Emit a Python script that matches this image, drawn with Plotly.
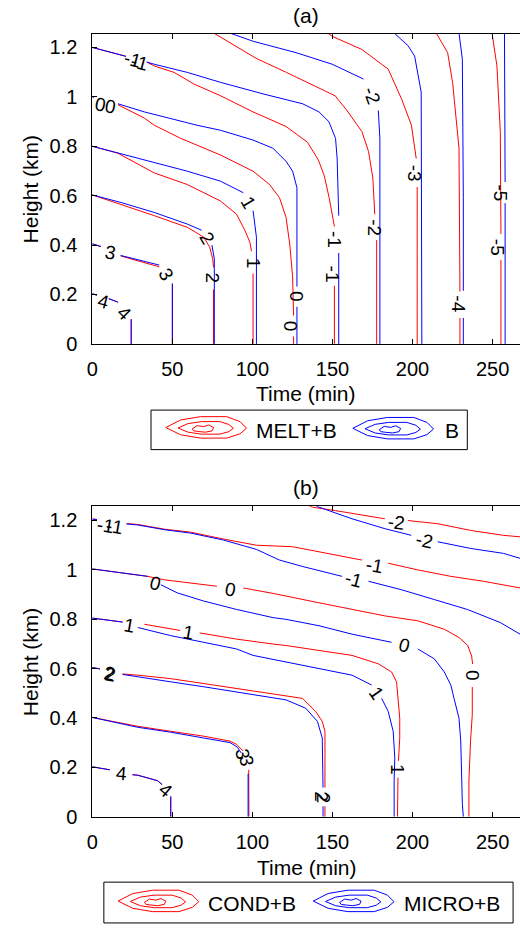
import plotly.graph_objects as go

W, H = 520, 930
FONT = "Liberation Sans, Arial, Helvetica, sans-serif"
RED, BLUE = "#ff0000", "#0000ff"
N = None

# ---------------- data: panel (a) ----------------
X_TICKS = [0, 50, 100, 150, 200, 250]
Y_TICKS = [0, 0.2, 0.4, 0.6, 0.8, 1.0, 1.2]

# MELT+B (red) contour lines, level -> (time [min], height [km])
a_melt = {
    4: ([0, 2.9, N, 10.3, 16, N, 24.3, 24.3], [0.203, 0.197, N, 0.183, 0.169, N, 0.1, 0]),
    3: ([0, 5.4, N, 17.7, 28.2, 41.8, N, 50, 50], [0.405, 0.394, N, 0.356, 0.336, 0.312, N, 0.244, 0]),
    2: ([0, 18.1, 38.7, 59.3, 69.6, 73.3, 75.2, 75.7, N, 75.7, 75.7],
        [0.603, 0.565, 0.519, 0.472, 0.432, 0.392, 0.344, 0.31, N, 0.22, 0]),
    1: ([0, 15.9, 38.7, 59.3, 79.9, 90.1, 95.3, 98.4, 99.4, N, 100.4, 100.4],
        [0.8, 0.772, 0.692, 0.645, 0.579, 0.525, 0.459, 0.412, 0.375, N, 0.285, 0]),
    0: ([0, 1, N, 16, 32.5, 38.7, 55.2, 79.9, 100.4, 110.7, 116.9, 121, 123.3, 125.1, 125.7, N, 125.7, 125.7],
        [1.0, 0.998, N, 0.968, 0.914, 0.885, 0.832, 0.765, 0.699, 0.645, 0.592, 0.512, 0.404, 0.272, 0.115, N, 0.03, 0]),
    -1: ([0, 21, N, 34, 38.7, 51.1, 63.4, 79.9, 100.4, 121, 134.4, 141.2, 144.9, 147.9, 150.4, 151.2, N, 151.2, 151.2],
         [1.2, 1.164, N, 1.141, 1.125, 1.099, 1.052, 1.005, 0.939, 0.88, 0.816, 0.744, 0.68, 0.592, 0.504, 0.475, N, 0.235, 0]),
    -2: ([76.4, 89.9, 102.3, 121.2, 137.6, 151.7, 159.1, 168.4, 172.5, 175.2, 176.4, N, 177.6, 177.6],
         [1.256, 1.204, 1.156, 1.099, 1.048, 1.004, 0.944, 0.859, 0.779, 0.672, 0.525, N, 0.42, 0]),
    -3: ([146.7, 149.8, 168.3, 184.8, 193.1, 199.3, 202.3, N, 202.9, 202.9],
         [1.26, 1.245, 1.192, 1.112, 0.992, 0.885, 0.75, N, 0.635, 0]),
    -4: ([214.7, 221.9, 225, 229, 229.6, N, 229.6, 229.6],
         [1.259, 1.179, 1.059, 0.792, 0.212, N, 0.105, 0]),
    -5: ([249.6, 252.7, 254.8, 255.2, N, 255.2, 255.2],
         [1.259, 1.125, 0.86, 0.445, N, 0.34, 0]),
}

# B (blue) contour lines
a_base = {
    4: ([0, 2.9, N, 10.3, 16, N, 24.3, 24.3], [0.203, 0.197, N, 0.183, 0.169, N, 0.1, 0]),
    3: ([0, 5.4, N, 17.7, 28.2, 41.8, N, 50, 50], [0.405, 0.394, N, 0.358, 0.34, 0.319, N, 0.244, 0]),
    2: ([0, 18.1, 38.7, 59.3, 68.3, N, 74.7, 76.2, 76.2], [0.603, 0.572, 0.532, 0.485, 0.46, N, 0.4, 0.344, 0]),
    1: ([0, 20.2, 38.7, 59.3, 79.9, 94.3, N, 100.4, 102.5, 102.5],
        [0.8, 0.765, 0.732, 0.699, 0.659, 0.612, N, 0.539, 0.432, 0]),
    0: ([0, 1, N, 16, 32.5, 49, 65.4, 79.9, 100.4, 112.8, 121, 125.1, 127.8, 127.8, N, 127.8, 127.8],
        [1.0, 0.998, N, 0.972, 0.939, 0.912, 0.885, 0.865, 0.825, 0.792, 0.739, 0.699, 0.632, 0.232, N, 0.15, 0]),
    -1: ([0, 21, N, 34, 38.7, 59.3, 79.9, 106.6, 131.3, 141.6, 147.8, 151.9, 152.9, 153.9, N, 153.9, 153.9],
         [1.2, 1.164, N, 1.141, 1.132, 1.099, 1.059, 1.012, 0.972, 0.939, 0.899, 0.832, 0.752, 0.519, N, 0.368, 0]),
    -2: ([86.9, 100.4, 127.2, 149.8, 169.4, N, 178.6, 179.6, 179.6],
         [1.256, 1.225, 1.179, 1.132, 1.072, N, 0.945, 0.832, 0]),
    -3: ([188.9, 197.2, 201.3, 205.4, 205.8], [1.256, 1.207, 1.165, 1.019, 0]),
    -4: ([229, 231.1, 231.7, 231.7, N, 231.7, 231.7], [1.259, 1.152, 0.592, 0.215, N, 0.105, 0]),
    -5: ([257.4, 257.8, N, 257.8, 257.8], [1.259, 0.655, N, 0.57, 0]),
}

# contour labels (a): text, time, height, rotation
a_lab_text = ["-1", "-1", "0", "0", "4", "4", "3", "3", "2", "2", "1", "1", "0", "0",
              "-1", "-1", "-2", "-2", "-3", "-4", "-5", "-5"]
a_lab_t = [25.1, 29.4, 5.0, 11.6, 6.8, 20.2, 11.5, 45.9, 71.6, 75.3, 97.3, 100.4, 127.2, 124.3,
           151.7, 149.8, 174.5, 176.6, 201.0, 229.0, 254.8, 253.5]
a_lab_z = [1.150, 1.140, 0.968, 0.962, 0.172, 0.125, 0.368, 0.279, 0.425, 0.265, 0.572, 0.328, 0.19, 0.072,
           0.424, 0.284, 1.004, 0.472, 0.692, 0.160, 0.612, 0.392]
a_lab_ang = [15, 15, 10, 10, 15, 45, 10, 60, 60, 90, 60, 90, 90, 90,
             90, 90, 70, 90, 90, 90, 90, 90]

# ---------------- data: panel (b) ----------------
# COND+B (red)
b_cond = {
    4: ([0, 10.9, N, 25.1, 28.4, 40.7, 43.6, N, 49, 49], [0.202, 0.19, N, 0.17, 0.168, 0.146, 0.13, N, 0.082, 0]),
    3: ([0, 28.4, 49, 69.6, 86, 90.1, 94.2, N, 97.7, 97.8, 97.8],
        [0.402, 0.366, 0.346, 0.326, 0.306, 0.293, 0.266, N, 0.19, 0.146, 0]),
    2: ([0, 4.8, N, 18.9, 28.4, 49, 69.6, 90.1, 100.4, 112.8, 131.3, 139.5, 143.6, 145.3, 145.3, N, 145.3, 145.3],
        [0.604, 0.598, N, 0.578, 0.573, 0.559, 0.539, 0.519, 0.512, 0.5, 0.479, 0.426, 0.386, 0.346, 0.118, N, 0.042, 0]),
    1: ([0, 18.9, N, 32.5, 49, 54.8, N, 67.1, 90.1, 112.8, 121, 141.6, 162.2, 178.6, 186.9, 190, 191, 192, 192, 191.2,
         N, 190.9, 190.6, 190.6],
        [0.804, 0.788, N, 0.779, 0.759, 0.754, N, 0.744, 0.719, 0.699, 0.693, 0.673, 0.653, 0.619, 0.586, 0.546, 0.479,
         0.399, 0.319, 0.226, N, 0.158, 0.079, 0]),
    0: ([0, 34.6, 44.9, 61.4, 77.8, N, 94.3, 112.8, 141.6, 162.2, 182.7, 203.3, 219.8, 228.9, 234.4, 236.9, 237.5,
         N, 237.3, 237.3, 236.2, 235.2, 235.2],
        [1.003, 0.973, 0.959, 0.946, 0.933, N, 0.926, 0.904, 0.866, 0.839, 0.813, 0.793, 0.759, 0.726, 0.694, 0.65,
         0.618, N, 0.525, 0.413, 0.306, 0.146, 0]),
    -1: ([0, 2.9, N, 21.4, 28.4, 44.9, 61.4, 81.9, 102.5, 125.1, 168.3, N, 184.8, 203.3, 223.9, 244.4, 267.1],
         [1.205, 1.203, N, 1.187, 1.183, 1.164, 1.152, 1.124, 1.099, 1.093, 1.039, N, 1.026, 0.999, 0.973, 0.953, 0.926]),
    -2: ([134.4, 137.5, 151.9, 182.7, N, 197.1, 215.7, 236.2, 256.8, 267.1],
         [1.262, 1.253, 1.239, 1.206, N, 1.199, 1.186, 1.159, 1.139, 1.133]),
}

# MICRO+B (blue)
b_micro = {
    4: ([0, 10.9, N, 25.1, 28.4, 40.7, 43.6, N, 49, 49], [0.202, 0.19, N, 0.17, 0.168, 0.146, 0.13, N, 0.082, 0]),
    3: ([0, 28.4, 49, 69.6, 86, 90.6, 93, N, 97.3, 97.3], [0.402, 0.362, 0.342, 0.32, 0.3, 0.282, 0.258, N, 0.174, 0]),
    2: ([0, 4.8, N, 18.9, 28.4, 49, 69.6, 90.1, 100.4, 121, 133.3, 140.6, 143.6, 144.1, N, 144.1, 144.1],
        [0.604, 0.598, N, 0.576, 0.566, 0.546, 0.526, 0.504, 0.493, 0.473, 0.439, 0.386, 0.319, 0.118, N, 0.042, 0]),
    1: ([0, 18.9, N, 28.4, 49, 69.6, 90.1, 100.4, 121, 141.6, 162.2, 174.5, N, 180.7, 184.8, 187.9, 188.9, 188.5, 188.5],
        [0.804, 0.788, N, 0.766, 0.733, 0.706, 0.679, 0.653, 0.626, 0.599, 0.573, 0.533, N, 0.479, 0.426, 0.346,
         0.239, 0.146, 0]),
    0: ([0, 34.6, N, 42.8, 53.1, 69.6, 90.1, 112.8, 121, 141.6, 162.2, 186.9, N, 203.3, 213.6, 219.8, 223.9, 225.9,
         229, 230.1, 230.5, 231.1, 231.7],
        [1.003, 0.973, N, 0.939, 0.906, 0.873, 0.839, 0.806, 0.799, 0.773, 0.739, 0.706, N, 0.679, 0.639, 0.586,
         0.533, 0.479, 0.399, 0.306, 0.146, 0.053, 0]),
    -1: ([0, 2.9, N, 21.4, 28.4, 44.9, 61.4, 81.9, 102.5, 116.9, 131.3, 156, N, 172.5, 193, 213.6, 234.2, 254.8, 267.1],
         [1.205, 1.203, N, 1.185, 1.181, 1.162, 1.148, 1.12, 1.082, 1.039, 1.013, 0.973, N, 0.953, 0.919, 0.879,
          0.839, 0.786, 0.739]),
    -2: ([139.3, 141.6, 162.2, 182.7, 199.2, N, 215.7, 236.2, 256.8, 267.1],
         [1.26, 1.253, 1.206, 1.166, 1.139, N, 1.113, 1.086, 1.066, 1.046]),
}

b_lab_text = ["-1", "-1", "0", "0", "1", "1", "2", "2", "3", "3", "4", "4", "2", "2",
              "1", "1", "0", "0", "-1", "-1", "-2", "-2"]
b_lab_t = [8.3, 14.0, 39.7, 86.0, 23.3, 60.3, 10.5, 11.5, 93.6, 96.1, 18.1, 45.9, 143.0, 144.5,
           177.6, 191.0, 195.0, 237.9, 176.4, 163.2, 190.0, 207.4]
b_lab_z = [1.179, 1.176, 0.946, 0.919, 0.773, 0.746, 0.578, 0.574, 0.254, 0.226, 0.175, 0.106, 0.082, 0.074,
           0.499, 0.193, 0.695, 0.573, 1.018, 0.959, 1.193, 1.119]
b_lab_ang = [10, 10, 15, 10, 10, 10, 10, 10, 80, 80, 5, 40, 90, 90,
             55, 90, 15, 90, 10, 15, 8, 12]

# ---------------- figure ----------------
fig = go.Figure()

# panel geometry (pixels)
X_LEFT = 87.3
A_TOP, A_BOT = 34.0, 348.0
B_TOP, B_BOT = 512.3, 826.5
PX_PER_MIN = 1.62
PX_PER_KM = 250.0
X_MAX = (W - X_LEFT) / PX_PER_MIN


def add_series(series, color, xa, ya):
    for lvl, (t, z) in series.items():
        fig.add_trace(go.Scatter(x=t, y=z, mode="lines", line=dict(color=color, width=1),
                                 xaxis=xa, yaxis=ya, showlegend=False, hoverinfo="skip",
                                 name=str(lvl)))


add_series(a_melt, RED, "x", "y")
add_series(a_base, BLUE, "x", "y")
add_series(b_cond, RED, "x2", "y2")
add_series(b_micro, BLUE, "x2", "y2")

ann = []
for txt, t, z, ang in zip(a_lab_text, a_lab_t, a_lab_z, a_lab_ang):
    ann.append(dict(x=t, y=z, xref="x", yref="y", text=txt, showarrow=False, textangle=ang,
                    font=dict(family=FONT, size=19, color="black")))
for txt, t, z, ang in zip(b_lab_text, b_lab_t, b_lab_z, b_lab_ang):
    ann.append(dict(x=t, y=z, xref="x2", yref="y2", text=txt, showarrow=False, textangle=ang,
                    font=dict(family=FONT, size=19, color="black")))


def paper_text(px, py, txt, size=21, angle=0, xanchor="center"):
    ann.append(dict(x=px / W, y=1 - py / H, xref="paper", yref="paper", text=txt, showarrow=False,
                    textangle=angle, xanchor=xanchor, yanchor="middle",
                    font=dict(family=FONT, size=size, color="black")))


paper_text(303, 15.5, "(a)")
paper_text(303, 493, "(b)")
paper_text(304, 398, "Time (min)")
paper_text(305, 878, "Time (min)")
paper_text(25, (A_TOP + A_BOT) / 2, "Height (km)", angle=-90)
paper_text(25, (B_TOP + B_BOT) / 2, "Height (km)", angle=-90)

# legends (drawn manually: MATLAB contour-style icons)
OUTER = [(-1, 0.015), (-0.633, -0.69), (-0.143, -1), (0.51, -1), (0.837, -0.54), (1, 0.077),
         (0.837, 0.6), (0.51, 1), (-0.143, 1), (-0.633, 0.69)]
INNER = [(-1, 0.09), (-0.54, -0.82), (0.08, -0.55), (0.54, -1), (1, -0.27), (0.85, 0.64),
         (0.23, 1), (-0.38, 0.82), (-0.85, 0.64)]
shapes = []


def icon(cx, cy, color):
    for dx, dy, w, h, pts in [(0, 0, 81.7, 21.7, OUTER), (-0.5, 0.5, 56, 12.7, OUTER),
                              (-3.3, 1.2, 21.7, 7.3, INNER)]:
        path = "M " + " L ".join(
            f"{(cx + dx + u * w / 2) / W:.5f},{1 - (cy + dy + v * h / 2) / H:.5f}" for u, v in pts) + " Z"
        shapes.append(dict(type="path", xref="paper", yref="paper", path=path,
                           line=dict(color=color, width=1), fillcolor="rgba(0,0,0,0)"))


def box(x0, y0, x1, y1):
    shapes.append(dict(type="rect", xref="paper", yref="paper", x0=x0 / W, x1=x1 / W,
                       y0=1 - y1 / H, y1=1 - y0 / H, line=dict(color="black", width=1),
                       fillcolor="rgba(0,0,0,0)"))


box(146.7, 415, 466.7, 455)
icon(202.5, 432.5, RED)
icon(391.7, 433.3, BLUE)
paper_text(251, 436, "MELT+B", xanchor="left")
paper_text(442.5, 436, "B", xanchor="left")

box(99, 892.7, 513, 934)
icon(154.2, 911.7, RED)
icon(351.7, 911.7, BLUE)
paper_text(202.5, 914, "COND+B", xanchor="left")
paper_text(401, 914, "MICRO+B", xanchor="left")

axis_common = dict(showgrid=False, zeroline=False, showline=True, linecolor="black", linewidth=1,
                   ticks="inside", ticklen=5, tickwidth=1, tickcolor="black",
                   tickfont=dict(family=FONT, size=20, color="black"))

fig.update_layout(
    width=W, height=H, margin=dict(l=0, r=0, t=0, b=0),
    paper_bgcolor="white", plot_bgcolor="white", showlegend=False,
    xaxis=dict(domain=[X_LEFT / W, 1], range=[0, X_MAX], anchor="y", tickvals=X_TICKS,
               mirror="ticks", ticklabelstandoff=7, **axis_common),
    yaxis=dict(domain=[1 - A_BOT / H, 1 - A_TOP / H], range=[0, (A_BOT - A_TOP) / PX_PER_KM],
               anchor="x", tickvals=Y_TICKS, ticklabelstandoff=10, **axis_common),
    xaxis2=dict(domain=[X_LEFT / W, 1], range=[0, X_MAX], anchor="y2", tickvals=X_TICKS,
                mirror="ticks", ticklabelstandoff=7, **axis_common),
    yaxis2=dict(domain=[1 - B_BOT / H, 1 - B_TOP / H], range=[0, (B_BOT - B_TOP) / PX_PER_KM],
                anchor="x2", tickvals=Y_TICKS, ticklabelstandoff=10, **axis_common),
    annotations=ann, shapes=shapes,
)

fig.write_html("out.html")
